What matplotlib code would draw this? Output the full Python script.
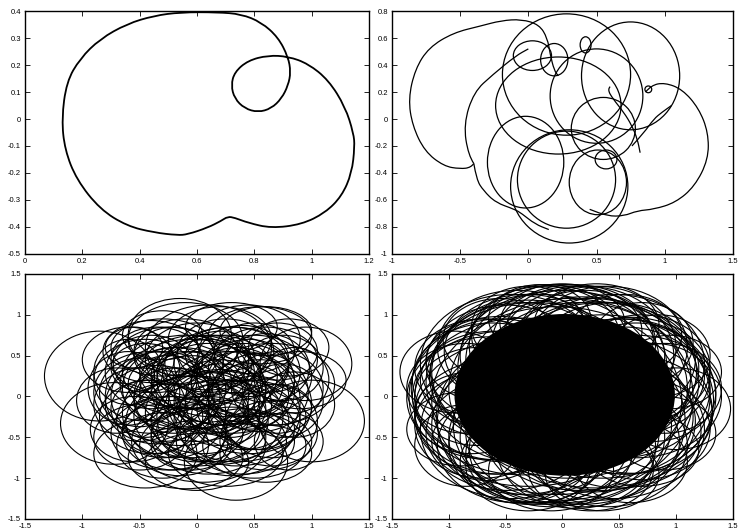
import numpy as np
import matplotlib
matplotlib.use("Agg")
import matplotlib.pyplot as plt
from matplotlib.path import Path
from matplotlib.patches import PathPatch, Ellipse
from matplotlib.ticker import FuncFormatter, MultipleLocator

plt.rcParams['font.family'] = ['Liberation Sans', 'DejaVu Sans']
plt.rcParams['axes.unicode_minus'] = False

# ---------------- data ----------------
# top-left: closed trajectory (control points)
tl_x = [0.128, 0.145, 0.192, 0.262, 0.356, 0.450, 0.543, 0.672, 0.754, 0.824, 0.883, 0.918,
        0.927, 0.918, 0.895, 0.859, 0.813, 0.766, 0.731, 0.719, 0.731, 0.778, 0.848, 0.918,
        0.988, 1.059, 1.117, 1.146, 1.150, 1.140, 1.105, 1.047, 0.965, 0.859, 0.778, 0.731,
        0.707, 0.684, 0.637, 0.567, 0.532, 0.450, 0.356, 0.262, 0.180, 0.139]
tl_y = [0.000, 0.138, 0.224, 0.297, 0.353, 0.383, 0.396, 0.396, 0.389, 0.359, 0.303, 0.230,
        0.174, 0.125, 0.076, 0.039, 0.025, 0.039, 0.076, 0.125, 0.174, 0.217, 0.236, 0.232,
        0.205, 0.144, 0.045, -0.053, -0.102, -0.200, -0.286, -0.348, -0.391, -0.405, -0.385, -0.366,
        -0.362, -0.378, -0.403, -0.428, -0.431, -0.421, -0.397, -0.335, -0.225, -0.114]

# top-right: loops (centre x, centre y, radius x, radius y)
tr_cx = [0.03, 0.19, 0.42, 0.88, 0.55, 0.57, 0.51, -0.02, 0.22, 0.28, 0.75, 0.50, 0.28, 0.30]
tr_cy = [0.47, 0.44, 0.55, 0.22, -0.07, -0.30, -0.47, -0.32, 0.10, 0.33, 0.32, 0.17, -0.45, -0.50]
tr_rx = [0.14, 0.10, 0.04, 0.025, 0.235, 0.08, 0.21, 0.28, 0.46, 0.47, 0.36, 0.34, 0.36, 0.43]
tr_ry = [0.11, 0.12, 0.06, 0.025, 0.23, 0.07, 0.24, 0.34, 0.36, 0.45, 0.40, 0.35, 0.36, 0.42]

# top-right: open path segments
tr_paths = [
    ([-0.40, -0.42, -0.50, -0.62, -0.76, -0.85, -0.88, -0.83, -0.73, -0.55, -0.35, -0.20, -0.05, 0.08, 0.14, 0.16, 0.19, 0.22],
     [-0.33, -0.36, -0.37, -0.35, -0.24, -0.05, 0.15, 0.37, 0.53, 0.64, 0.69, 0.73, 0.74, 0.70, 0.60, 0.48, 0.36, 0.32]),
    ([-0.40, -0.44, -0.475, -0.40, -0.26, -0.09, 0.00],
     [-0.33, -0.27, -0.04, 0.20, 0.33, 0.47, 0.52]),
    ([-0.40, -0.38, -0.33, -0.24, -0.10, -0.05, 0.05, 0.15],
     [-0.33, -0.45, -0.53, -0.62, -0.67, -0.70, -0.78, -0.82]),
    ([0.86, 0.90, 1.00, 1.13, 1.25, 1.32, 1.32, 1.22, 1.08, 0.92, 0.80, 0.70, 0.58, 0.45],
     [0.20, 0.25, 0.27, 0.22, 0.08, -0.10, -0.30, -0.50, -0.62, -0.67, -0.68, -0.72, -0.72, -0.67]),
    ([0.60, 0.58, 0.62, 0.70, 0.76, 0.80, 0.82],
     [0.24, 0.22, 0.15, 0.05, -0.05, -0.15, -0.25]),
    ([0.76, 0.85, 0.92, 0.98, 1.05],
     [-0.20, -0.10, 0.00, 0.05, 0.10]),
]

# bottom-left: loops
bl_cx = [-0.85, -0.72, 0.95, 1.00, -0.15, 0.45, 0.34, -0.45, -0.40, -0.20, 0.00, 0.20, 0.40, 0.50,
         -0.30, 0.10, -0.10, 0.25, 0.60, -0.50, 0.65, -0.15, 0.30, 0.00, -0.25, 0.15, 0.35, -0.35,
         0.55, -0.05, 0.10, -0.40, 0.70, 0.75, -0.55, 0.50, -0.10, 0.20, -0.20, 0.40, 0.05, -0.30,
         0.60, 0.85, -0.60, 0.20, -0.05, 0.40, -0.45, 0.10, 0.65, -0.25, 0.30, 0.00, -0.55, 0.80,
         -0.45, -0.30, -0.10, 0.10, 0.30, 0.50, 0.55, 0.35, 0.05, -0.20, -0.40, -0.35, 0.00, 0.30,
         0.60, 0.70, 0.65, 0.40, 0.10, -0.20, -0.50, -0.15, 0.25, 0.20, -0.10, 0.45, 0.15, -0.25,
         0.00, 0.50, -0.30, 0.20, 0.25, -0.30, 0.75, -0.60, 0.60, -0.05, 0.35, 0.10, -0.40, 0.45,
         -0.60, 0.80, 0.55, -0.10, 0.30, -0.50, 0.00, 0.60, 0.85, 0.90, -0.70, -0.20, 0.45, 0.15,
         -0.35, 0.30, -0.05, 0.70, 0.20, -0.45]
bl_cy = [0.25, -0.33, 0.40, -0.30, 0.75, 0.70, -0.80, -0.70, 0.30, 0.10, 0.30, -0.10, 0.20, -0.20,
         -0.30, -0.40, 0.55, 0.55, 0.35, 0.05, -0.45, -0.55, -0.55, 0.00, 0.40, 0.25, -0.30, -0.10,
         0.05, -0.25, 0.60, 0.55, 0.55, -0.05, -0.40, -0.60, -0.75, 0.05, -0.05, 0.45, -0.60, 0.75,
         0.80, 0.20, 0.30, -0.25, 0.15, -0.05, -0.15, 0.40, 0.15, -0.45, 0.30, -0.30, 0.60, -0.55,
         0.20, 0.00, 0.30, 0.10, 0.05, 0.25, -0.10, -0.40, -0.20, -0.20, -0.25, 0.45, 0.45, 0.40,
         0.45, 0.10, -0.30, -0.55, -0.50, -0.45, -0.10, 0.00, 0.20, -0.30, 0.20, 0.00, -0.05, 0.15,
         -0.45, 0.55, 0.60, 0.70, -0.70, -0.60, 0.35, 0.10, -0.55, 0.05, 0.15, 0.30, 0.05, -0.25,
         0.45, 0.60, 0.75, 0.70, 0.85, -0.50, -0.80, -0.70, -0.10, 0.20, -0.05, 0.50, 0.35, -0.15,
         -0.40, -0.15, -0.60, -0.15, 0.50, 0.35]
bl_rx = [0.48, 0.47, 0.40, 0.46, 0.45, 0.45, 0.45, 0.45, 0.40, 0.45, 0.50, 0.45, 0.45, 0.40,
         0.40, 0.45, 0.45, 0.42, 0.38, 0.35, 0.40, 0.42, 0.48, 0.55, 0.48, 0.55, 0.55, 0.45,
         0.42, 0.50, 0.55, 0.42, 0.35, 0.35, 0.38, 0.45, 0.50, 0.40, 0.35, 0.40, 0.55, 0.35,
         0.40, 0.30, 0.30, 0.55, 0.62, 0.50, 0.30, 0.38, 0.55, 0.50, 0.60, 0.62, 0.25, 0.30,
         0.45, 0.50, 0.55, 0.50, 0.55, 0.50, 0.45, 0.50, 0.50, 0.45, 0.45, 0.40, 0.45, 0.50,
         0.45, 0.40, 0.40, 0.45, 0.50, 0.45, 0.40, 0.60, 0.60, 0.60, 0.40, 0.35, 0.35, 0.35,
         0.40, 0.35, 0.45, 0.45, 0.50, 0.40, 0.35, 0.35, 0.40, 0.45, 0.40, 0.45, 0.50, 0.50,
         0.40, 0.35, 0.45, 0.50, 0.40, 0.40, 0.45, 0.40, 0.35, 0.40, 0.35, 0.35, 0.35, 0.30,
         0.30, 0.30, 0.35, 0.30, 0.30, 0.30]
bl_ry = [0.55, 0.50, 0.45, 0.50, 0.45, 0.42, 0.47, 0.42, 0.45, 0.50, 0.45, 0.50, 0.45, 0.45,
         0.45, 0.40, 0.40, 0.40, 0.42, 0.42, 0.40, 0.42, 0.42, 0.55, 0.45, 0.50, 0.50, 0.48,
         0.48, 0.50, 0.52, 0.38, 0.35, 0.45, 0.40, 0.40, 0.38, 0.40, 0.40, 0.42, 0.45, 0.30,
         0.30, 0.40, 0.40, 0.58, 0.55, 0.60, 0.35, 0.35, 0.50, 0.45, 0.55, 0.55, 0.25, 0.35,
         0.50, 0.55, 0.45, 0.55, 0.50, 0.50, 0.55, 0.45, 0.50, 0.55, 0.45, 0.40, 0.45, 0.45,
         0.40, 0.45, 0.45, 0.40, 0.45, 0.45, 0.45, 0.60, 0.55, 0.50, 0.35, 0.40, 0.35, 0.35,
         0.35, 0.35, 0.35, 0.40, 0.40, 0.40, 0.40, 0.45, 0.35, 0.45, 0.45, 0.40, 0.50, 0.45,
         0.40, 0.35, 0.35, 0.45, 0.30, 0.40, 0.35, 0.35, 0.40, 0.35, 0.40, 0.35, 0.35, 0.30,
         0.30, 0.35, 0.30, 0.30, 0.30, 0.30]

# bottom-right: dense core + loops
br_core = (0.02, 0.02, 0.97, 0.99)
br_cx = [-0.95, -0.90, -0.85, -0.80, 1.00, 0.95, 0.90, 0.85, 0.00, -0.30, 0.30, 0.55, -0.55, 0.35,
         -0.10, -0.40, 0.60, -0.70, -0.65, 0.70, 0.70, 0.10, -0.15, 0.20, -0.25, 0.80, -0.75, 0.45,
         -0.45, 0.45, -0.45, 0.55, -0.55, 0.00, 0.00, 0.40, -0.40, 0.40, -0.40, 0.05, -0.05, 0.15,
         -0.60, 0.65, -0.20, 0.25, 0.90, -0.85, 0.20, -0.30,
         0.65, 0.60, 0.45, 0.30, 0.10, -0.12, -0.32, -0.50, -0.62, -0.65, -0.60, -0.48, -0.30, -0.10,
         0.12, 0.33, 0.50, 0.62,
         0.50, 0.35, 0.00, -0.35, -0.50, -0.35, 0.00, 0.35, 0.55, -0.55, 0.20, -0.20, 0.70, -0.70,
         0.70, -0.70,
         0.35, 0.30, 0.18, 0.00, -0.18, -0.30, -0.35, -0.30, -0.18, 0.00, 0.18, 0.30,
         0.25, -0.25, 0.25, -0.25]
br_cy = [0.30, -0.40, 0.10, -0.20, -0.15, 0.30, -0.45, 0.50, 0.90, 0.85, 0.88, 0.75, 0.70, -0.95,
         -0.90, -0.80, -0.80, 0.45, -0.55, 0.65, -0.65, 0.80, 0.75, -0.80, -0.70, 0.05, 0.00, 0.40,
         0.40, -0.40, -0.40, 0.00, 0.00, 0.50, -0.50, 0.60, 0.60, -0.60, -0.60, 0.10, -0.05, 0.00,
         0.20, 0.25, 0.95, -0.90, 0.10, -0.60, 0.70, -0.85,
         0.00, 0.25, 0.45, 0.60, 0.65, 0.62, 0.55, 0.40, 0.20, -0.02, -0.25, -0.45, -0.60, -0.65,
         -0.62, -0.55, -0.42, -0.22,
         0.10, 0.35, 0.45, 0.30, 0.00, -0.35, -0.45, -0.30, -0.05, 0.10, 0.50, -0.50, 0.35, 0.35,
         -0.40, -0.35,
         0.00, 0.18, 0.30, 0.35, 0.30, 0.18, 0.00, -0.18, -0.30, -0.35, -0.30, -0.18,
         0.25, 0.25, -0.25, -0.25]
br_rx = [0.48, 0.47, 0.52, 0.50, 0.48, 0.45, 0.45, 0.45, 0.55, 0.50, 0.55, 0.50, 0.50, 0.50,
         0.55, 0.50, 0.50, 0.50, 0.50, 0.45, 0.50, 0.60, 0.65, 0.60, 0.60, 0.55, 0.55, 0.80,
         0.80, 0.80, 0.80, 0.80, 0.80, 0.90, 0.90, 0.70, 0.70, 0.70, 0.70, 1.05, 1.10, 1.00,
         0.65, 0.60, 0.45, 0.55, 0.50, 0.45, 0.60, 0.55,
         0.75, 0.70, 0.72, 0.70, 0.72, 0.70, 0.72, 0.70, 0.70, 0.72, 0.70, 0.72, 0.70, 0.72,
         0.70, 0.70, 0.72, 0.70,
         0.80, 0.85, 0.85, 0.80, 0.82, 0.80, 0.85, 0.82, 0.78, 0.78, 0.78, 0.80, 0.60, 0.60,
         0.60, 0.60,
         0.95, 0.90, 1.00, 0.92, 0.98, 0.90, 0.95, 1.00, 0.92, 0.96, 0.90, 1.02,
         0.88, 0.92, 0.90, 0.86]
br_ry = [0.50, 0.45, 0.55, 0.50, 0.50, 0.45, 0.45, 0.50, 0.48, 0.50, 0.50, 0.50, 0.50, 0.45,
         0.50, 0.50, 0.50, 0.50, 0.48, 0.50, 0.45, 0.55, 0.60, 0.55, 0.60, 0.60, 0.60, 0.85,
         0.85, 0.85, 0.85, 0.95, 0.95, 0.80, 0.80, 0.75, 0.70, 0.75, 0.70, 1.10, 1.15, 1.15,
         0.60, 0.65, 0.42, 0.50, 0.55, 0.50, 0.60, 0.55,
         0.75, 0.72, 0.70, 0.75, 0.72, 0.75, 0.70, 0.72, 0.70, 0.75, 0.70, 0.70, 0.72, 0.70,
         0.75, 0.72, 0.70, 0.72,
         0.85, 0.80, 0.85, 0.85, 0.80, 0.85, 0.82, 0.85, 0.90, 0.88, 0.85, 0.82, 0.65, 0.60,
         0.62, 0.65,
         1.00, 0.98, 0.92, 1.02, 0.95, 1.00, 0.96, 0.92, 1.00, 0.98, 1.02, 0.94,
         0.95, 0.90, 0.92, 0.96]

# axes setup
limits = {
    'tl': ((0, 1.2), (-0.5, 0.4), 0.2, 0.1),
    'tr': ((-1, 1.5), (-1, 0.8), 0.5, 0.2),
    'bl': ((-1.5, 1.5), (-1.5, 1.5), 0.5, 0.5),
    'br': ((-1.5, 1.5), (-1.5, 1.5), 0.5, 0.5),
}
positions = {
    'tl': [0.0337, 0.522, 0.4643, 0.457],
    'tr': [0.529, 0.522, 0.460, 0.457],
    'bl': [0.0337, 0.0226, 0.4643, 0.4614],
    'br': [0.529, 0.0226, 0.460, 0.4614],
}


def smooth_path(xs, ys, closed):
    pts = np.column_stack([xs, ys])
    verts, codes = [], []
    n = len(pts)
    if closed:
        mids = [(pts[i] + pts[(i + 1) % n]) / 2 for i in range(n)]
        verts.append(mids[-1]); codes.append(Path.MOVETO)
        for i in range(n):
            verts += [pts[i], mids[i]]
            codes += [Path.CURVE3, Path.CURVE3]
    else:
        verts.append(pts[0]); codes.append(Path.MOVETO)
        for i in range(1, n - 1):
            m = (pts[i] + pts[i + 1]) / 2
            verts += [pts[i], m]
            codes += [Path.CURVE3, Path.CURVE3]
        verts.append(pts[-1]); codes.append(Path.LINETO)
    return Path(verts, codes)


fmt = FuncFormatter(lambda v, p: '%g' % round(v, 6))

fig = plt.figure(figsize=(7.41, 5.31), dpi=100)
axes = {}
for key, pos in positions.items():
    ax = fig.add_axes(pos)
    (x0, x1), (y0, y1), dx, dy = limits[key]
    ax.set_xlim(x0, x1)
    ax.set_ylim(y0, y1)
    ax.xaxis.set_major_locator(MultipleLocator(dx))
    ax.yaxis.set_major_locator(MultipleLocator(dy))
    ax.xaxis.set_major_formatter(fmt)
    ax.yaxis.set_major_formatter(fmt)
    ax.tick_params(direction='in', top=True, right=True, length=3.5, width=0.6,
                   labelsize=5.5, pad=3)
    for s in ax.spines.values():
        s.set_linewidth(1.0)
    axes[key] = ax

# top-left
ax = axes['tl']
ax.add_patch(PathPatch(smooth_path(tl_x, tl_y, True), fill=False, lw=1.3, color='black'))

# top-right
ax = axes['tr']
for cx, cy, rx, ry in zip(tr_cx, tr_cy, tr_rx, tr_ry):
    ax.add_patch(Ellipse((cx, cy), 2 * rx, 2 * ry, fill=False, lw=0.9, color='black'))
for xs, ys in tr_paths:
    ax.add_patch(PathPatch(smooth_path(xs, ys, False), fill=False, lw=0.9, color='black'))

# bottom-left
ax = axes['bl']
for cx, cy, rx, ry in zip(bl_cx, bl_cy, bl_rx, bl_ry):
    ax.add_patch(Ellipse((cx, cy), 2 * rx, 2 * ry, fill=False, lw=0.8, color='black'))

# bottom-right
ax = axes['br']
ccx, ccy, crx, cry = br_core
ax.add_patch(Ellipse((ccx, ccy), 2 * crx, 2 * cry, fill=True, lw=0, color='black'))
for cx, cy, rx, ry in zip(br_cx, br_cy, br_rx, br_ry):
    ax.add_patch(Ellipse((cx, cy), 2 * rx, 2 * ry, fill=False, lw=0.8, color='black'))

fig.savefig('out.png', dpi=100)
